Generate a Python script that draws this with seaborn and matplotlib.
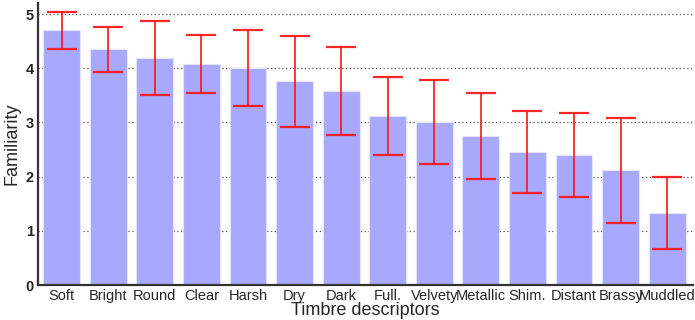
import pandas as pd
import numpy as np
import matplotlib
matplotlib.use("Agg")
import matplotlib.pyplot as plt
import seaborn as sns

descriptors = ['Soft', 'Bright', 'Round', 'Clear', 'Harsh', 'Dry', 'Dark', 'Full.',
               'Velvety', 'Metallic', 'Shim.', 'Distant', 'Brassy', 'Muddled']
familiarity = [4.70, 4.35, 4.19, 4.08, 4.00, 3.76, 3.58, 3.12, 3.01, 2.75, 2.45, 2.40, 2.12, 1.33]
err_half = [0.34, 0.42, 0.69, 0.53, 0.70, 0.84, 0.81, 0.72, 0.78, 0.80, 0.76, 0.78, 0.97, 0.66]

df = pd.DataFrame({'Descriptor': descriptors, 'Familiarity': familiarity, 'Err': err_half})

sns.set_style('white')
plt.rcParams['font.family'] = ['Liberation Sans', 'DejaVu Sans']

fig = plt.figure(figsize=(6.95, 3.2), dpi=100)
ax = fig.add_axes([0.055, 0.109, 0.942, 0.881])

sns.barplot(data=df, x='Descriptor', y='Familiarity', color='#a8a8fc',
            saturation=1, width=0.79, errorbar=None, ax=ax, zorder=2,
            edgecolor='#e4e4ff', linewidth=0.8)

xs = ax.get_xticks()
ax.errorbar(xs, df['Familiarity'], yerr=df['Err'], fmt='none', ecolor='#ff1010',
            elinewidth=1.3, capsize=11, capthick=1.6, zorder=3, alpha=0.9)

ax.set_xlim(-0.5, len(descriptors) - 0.45)
ax.set_ylim(0, 5.2)
ax.set_yticks([0, 1, 2, 3, 4, 5])
ax.yaxis.grid(True, linestyle=(0, (1, 2)), color='#555555', linewidth=0.9, zorder=0)
ax.set_axisbelow(True)

for s in ['top', 'right']:
    ax.spines[s].set_visible(False)
for s in ['left', 'bottom']:
    ax.spines[s].set_color('#333333')
    ax.spines[s].set_linewidth(1.6)

ax.tick_params(axis='x', labelsize=10.5, length=0, pad=3)
ax.tick_params(axis='y', labelsize=10.5, length=0, pad=3)
for lab in ax.get_yticklabels():
    lab.set_fontweight('bold')

ax.set_xlabel('Timbre descriptors', fontsize=13, labelpad=-1)
ax.set_ylabel('Familiarity', fontsize=13, labelpad=4)

fig.savefig('out.png', dpi=100)
